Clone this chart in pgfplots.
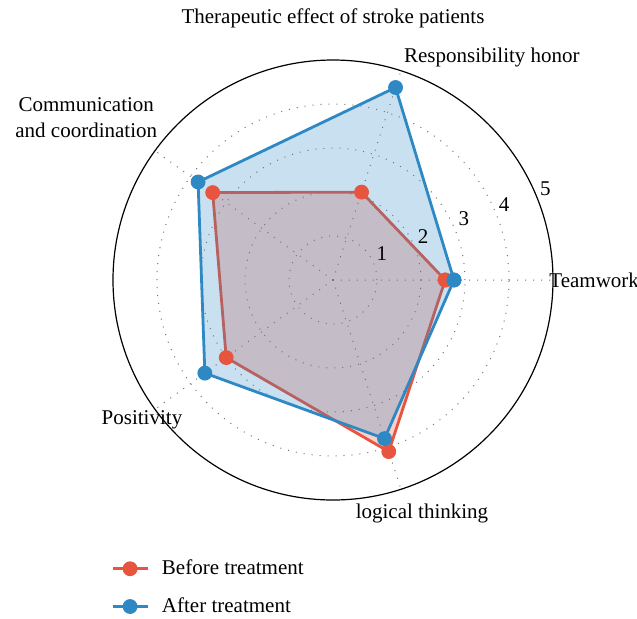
\documentclass[border=0pt]{standalone}
\usepackage{pgfplots}
\pgfplotsset{compat=1.18}
\usepgfplotslibrary{polar}
\usepackage{fontspec}
\setmainfont{Liberation Serif}
\definecolor{cred}{RGB}{232,85,63}
\definecolor{cblue}{RGB}{46,136,196}
\begin{document}
\begin{tikzpicture}[font=\fontsize{10.5}{13}\selectfont]
\begin{polaraxis}[
  scale only axis, width=220pt, height=220pt,
  xmin=0, xmax=360, ymin=0, ymax=5,
  xtick={0,72,144,216,288}, ytick={1,2,3,4},
  xticklabels={,,,,,}, yticklabels={,,,,},
  xticklabel style={opacity=0}, yticklabel style={opacity=0},
  y axis line style={draw=none},
  grid=major,
  major grid style={black!55, dash pattern=on 0.5pt off 3.5pt, line width=0.5pt},
  axis line style={black, line width=0.6pt},
  major tick length=0pt,
  clip=false,
  legend cell align=left,
  legend style={draw=none, fill=none, at={(axis description cs:-0.005,-0.126)}, anchor=north west,
    inner sep=0pt, row sep=6pt, font=\fontsize{10.5}{13}\selectfont,
    nodes={inner xsep=6.5pt}},
  legend image code/.code={\draw[mark repeat=2,mark phase=2,#1,fill opacity=1] plot coordinates {(0pt,0pt)(8.75pt,0pt)(17.5pt,0pt)};},
]
\addplot[draw=cred, line width=1.4pt, fill=cred, fill opacity=0.28, mark=*,
  mark size=3pt, mark options={fill=cred, draw=cred, fill opacity=1}]
  coordinates {(0,2.55) (72,2.1) (144,3.38) (216,3.0) (288,4.1) (360,2.55)};
\addlegendentry{Before treatment}
\addplot[draw=cblue, line width=1.4pt, fill=cblue, fill opacity=0.26, mark=*,
  mark size=3pt, mark options={fill=cblue, draw=cblue, fill opacity=1}]
  coordinates {(0,2.75) (72,4.6) (144,3.79) (216,3.6) (288,3.79) (360,2.75)};
\addlegendentry{After treatment}
\coordinate (C) at (axis cs:0,0);
\node[inner sep=0pt, anchor=west] at (axis cs:0,4.91) {Teamwork};
\node[inner sep=0pt] at (axis cs:54.5,6.22) {Responsibility honor};
\node[inner sep=0pt, align=center] at (axis cs:146.7,6.71) {Communication\\and coordination};
\node[inner sep=0pt] at (axis cs:216.2,5.38) {Positivity};
\node[inner sep=0pt] at (axis cs:290.9,5.67) {logical thinking};
\node[inner sep=0pt] at (axis cs:90,5.95) {Therapeutic effect of stroke patients};
\node[inner sep=0pt] at (axis cs:28,1.26) {1};
\node[inner sep=0pt] at (axis cs:25.5,2.27) {2};
\node[inner sep=0pt] at (axis cs:25,3.28) {3};
\node[inner sep=0pt] at (axis cs:23.7,4.25) {4};
\node[inner sep=0pt] at (axis cs:23.2,5.25) {5};
\end{polaraxis}
\pgfresetboundingbox
\path (C) ++(-166.5pt,-169pt) rectangle ++(318.5pt,309pt);
\end{tikzpicture}
\end{document}
